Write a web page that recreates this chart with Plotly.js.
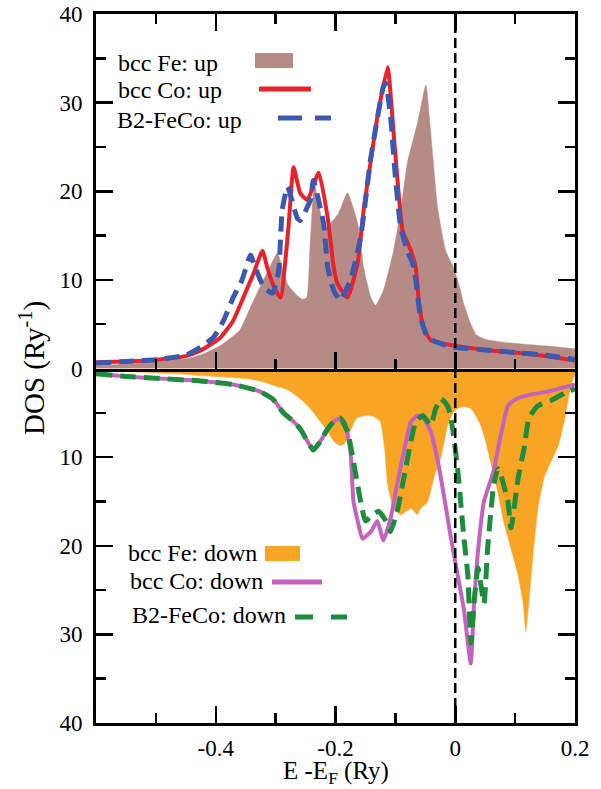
<!DOCTYPE html>
<html>
<head>
<meta charset="utf-8">
<script src="https://cdn.plot.ly/plotly-3.0.1.min.js"></script>
<style>
  html, body { margin: 0; padding: 0; background: #ffffff; }
  #chart { width: 601px; height: 789px; }
</style>
</head>
<body>
<div id="chart"></div>
<script>
// ---------------- data ----------------
// spin up, bcc Fe (filled)
const E_feUp   = [-0.6, -0.55, -0.5, -0.45, -0.426, -0.392, -0.36, -0.342, -0.326, -0.31, -0.297, -0.28, -0.265, -0.255, -0.248, -0.243, -0.238, -0.235, -0.228, -0.218, -0.208, -0.195, -0.18, -0.163, -0.153, -0.141, -0.133, -0.12, -0.103, -0.091, -0.08, -0.063, -0.049, -0.041, -0.029, -0.016, -0.003, 0.008, 0.014, 0.026, 0.035, 0.05, 0.076, 0.12, 0.16, 0.2];
const DOS_feUp = [0.3, 0.5, 0.8, 1.1, 1.5, 2.6, 4.3, 6.9, 9.2, 11.4, 13.0, 9.5, 8.3, 7.8, 8.0, 13.0, 19.0, 20.8, 18.5, 15.8, 16.4, 17.5, 19.8, 16.4, 11.4, 8.0, 7.1, 8.8, 13.3, 17.9, 23.2, 27.7, 32.0, 26.6, 17.9, 13.3, 11.4, 9.0, 7.3, 5.0, 3.8, 3.3, 3.0, 2.7, 2.5, 2.2];

// spin up, bcc Co
const E_coUp   = [-0.6, -0.55, -0.5, -0.45, -0.426, -0.392, -0.371, -0.354, -0.337, -0.322, -0.314, -0.305, -0.292, -0.279, -0.27, -0.259, -0.247, -0.228, -0.213, -0.203, -0.197, -0.18, -0.163, -0.153, -0.141, -0.13, -0.113, -0.103, -0.096, -0.088, -0.074, -0.066, -0.061, -0.053, -0.041, -0.019, -0.003, 0.05, 0.1, 0.15, 0.2];
const DOS_coUp = [0.7, 0.8, 1.0, 1.4, 2.0, 3.5, 5.4, 8.0, 10.7, 13.3, 11.4, 9.6, 8.0, 15.6, 22.7, 19.8, 19.0, 22.1, 17.0, 11.4, 9.6, 8.0, 11.9, 17.9, 23.5, 28.4, 34.0, 26.6, 20.9, 15.6, 13.3, 11.4, 7.7, 4.6, 3.2, 2.8, 2.6, 2.1, 1.8, 1.4, 0.9];

// spin up, B2-FeCo
const E_fecoUp   = [-0.6, -0.55, -0.5, -0.45, -0.426, -0.404, -0.387, -0.371, -0.356, -0.342, -0.334, -0.32, -0.305, -0.295, -0.289, -0.28, -0.264, -0.259, -0.242, -0.237, -0.22, -0.213, -0.203, -0.192, -0.175, -0.158, -0.141, -0.12, -0.116, -0.108, -0.1, -0.091, -0.08, -0.069, -0.058, -0.046, -0.024, -0.003, 0.05, 0.1, 0.15, 0.2];
const DOS_fecoUp = [0.6, 0.8, 1.0, 1.5, 2.4, 3.5, 5.4, 8.0, 10.0, 12.8, 11.4, 9.2, 8.5, 11.0, 17.9, 20.5, 17.0, 16.7, 19.0, 21.2, 16.4, 11.4, 8.8, 7.7, 10.0, 14.8, 23.8, 31.8, 32.2, 28.4, 21.6, 15.9, 13.3, 11.4, 5.8, 3.5, 2.8, 2.4, 2.1, 1.8, 1.5, 1.0];

// spin down, bcc Fe (filled)
const E_feDn   = [-0.6, -0.55, -0.5, -0.45, -0.426, -0.38, -0.342, -0.32, -0.304, -0.28, -0.259, -0.242, -0.225, -0.213, -0.203, -0.192, -0.185, -0.175, -0.165, -0.15, -0.137, -0.125, -0.118, -0.113, -0.108, -0.103, -0.091, -0.074, -0.063, -0.058, -0.046, -0.036, -0.024, -0.013, -0.008, -0.003, 0.004, 0.014, 0.026, 0.036, 0.043, 0.05, 0.059, 0.071, 0.081, 0.093, 0.105, 0.113, 0.118, 0.123, 0.13, 0.138, 0.148, 0.16, 0.172, 0.182, 0.19, 0.197, 0.2];
const DOS_feDn = [0.2, 0.35, 0.5, 0.65, 0.8, 1.0, 1.2, 1.5, 1.9, 2.4, 3.4, 4.5, 6.0, 7.1, 8.2, 8.7, 8.5, 7.0, 5.6, 5.3, 5.4, 6.0, 9.0, 13.0, 14.6, 15.8, 16.5, 15.8, 16.5, 15.8, 15.0, 12.4, 10.0, 6.5, 5.6, 4.9, 4.5, 4.3, 4.5, 5.5, 6.5, 8.0, 10.5, 13.9, 17.3, 20.3, 23.3, 26.3, 29.7, 26.3, 21.0, 15.8, 12.4, 10.5, 8.7, 6.0, 3.0, 1.1, 0.8];

// spin down, bcc Co
const E_coDn   = [-0.6, -0.55, -0.5, -0.45, -0.426, -0.371, -0.326, -0.304, -0.287, -0.27, -0.259, -0.247, -0.237, -0.225, -0.213, -0.203, -0.192, -0.185, -0.175, -0.17, -0.163, -0.155, -0.141, -0.13, -0.12, -0.108, -0.096, -0.086, -0.074, -0.063, -0.053, -0.041, -0.029, -0.019, -0.008, 0.004, 0.014, 0.026, 0.031, 0.038, 0.048, 0.064, 0.076, 0.088, 0.1, 0.121, 0.155, 0.2];
const DOS_coDn = [0.6, 0.9, 1.1, 1.3, 1.4, 1.8, 2.6, 3.5, 5.0, 6.0, 6.8, 8.2, 9.2, 8.2, 6.8, 6.0, 5.6, 6.0, 9.4, 15.0, 17.2, 19.2, 18.4, 17.2, 19.4, 16.9, 12.7, 9.4, 6.0, 5.3, 5.6, 7.1, 10.5, 14.3, 18.8, 23.3, 27.0, 33.3, 27.0, 20.6, 15.0, 11.6, 7.5, 4.2, 3.5, 3.0, 2.6, 1.8];

// spin down, B2-FeCo
const E_fecoDn   = [-0.6, -0.55, -0.5, -0.45, -0.426, -0.371, -0.326, -0.304, -0.287, -0.27, -0.259, -0.247, -0.237, -0.225, -0.213, -0.203, -0.192, -0.18, -0.17, -0.158, -0.15, -0.138, -0.128, -0.116, -0.108, -0.096, -0.086, -0.074, -0.066, -0.054, -0.041, -0.033, -0.024, -0.013, -0.008, -0.003, 0.004, 0.009, 0.014, 0.021, 0.026, 0.032, 0.038, 0.048, 0.054, 0.059, 0.064, 0.071, 0.076, 0.088, 0.093, 0.105, 0.115, 0.123, 0.138, 0.16, 0.182, 0.2];
const DOS_fecoDn = [0.6, 0.9, 1.1, 1.3, 1.4, 1.8, 2.6, 3.5, 5.0, 6.0, 6.8, 8.2, 9.2, 8.2, 6.8, 6.0, 5.6, 7.1, 10.5, 15.0, 17.2, 16.5, 16.1, 17.2, 18.4, 15.8, 12.4, 8.2, 6.0, 5.3, 6.4, 4.6, 3.4, 4.2, 5.3, 7.5, 11.3, 15.0, 18.8, 23.3, 31.0, 26.0, 22.5, 26.5, 20.3, 16.5, 13.2, 11.3, 12.0, 15.0, 18.0, 12.4, 9.0, 5.6, 4.2, 3.6, 2.8, 2.3];

// axis ticks
const xTickVals = [-0.4, -0.2, 0, 0.2];
const xTickText = ['-0.4', '-0.2', '0', '0.2'];
const yUpTickVals = [0, 10, 20, 30, 40];
const yDnTickVals = [10, 20, 30, 40];

// legend labels
const upLabels = ['bcc Fe: up', 'bcc Co: up', 'B2-FeCo: up'];
const dnLabels = ['bcc Fe: down', 'bcc Co: down', 'B2-FeCo: down'];

// ---------------- styles ----------------
const C_FE_UP = '#b68b86';
const C_CO_UP = '#e8222b';
const C_FECO_UP = '#3c59b2';
const C_FE_DN = '#f8a425';
const C_CO_DN = '#c462bf';
const C_FECO_DN = '#1d8d3d';
const FONT = 'Liberation Serif';

// plot area in pixels (for placing legend decorations)
const L = 96, R = 575, T = 14, B = 723;
const px = v => (v - L) / (R - L);
const py = v => (B - v) / (B - T);

const SM = 0.45;
const traces = [
  {x: E_feUp, y: DOS_feUp, xaxis: 'x2', yaxis: 'y', type: 'scatter', mode: 'lines',
   fill: 'tozeroy', fillcolor: C_FE_UP, line: {color: C_FE_UP, width: 0.5, shape: 'spline', smoothing: SM}, name: upLabels[0]},
  {x: E_coUp, y: DOS_coUp, xaxis: 'x2', yaxis: 'y', type: 'scatter', mode: 'lines',
   line: {color: C_CO_UP, width: 4, shape: 'spline', smoothing: SM}, name: upLabels[1]},
  {x: E_fecoUp, y: DOS_fecoUp, xaxis: 'x2', yaxis: 'y', type: 'scatter', mode: 'lines',
   line: {color: C_FECO_UP, width: 5, dash: '15px,8px', shape: 'spline', smoothing: SM}, name: upLabels[2]},
  {x: E_feDn, y: DOS_feDn, xaxis: 'x', yaxis: 'y2', type: 'scatter', mode: 'lines',
   fill: 'tozeroy', fillcolor: C_FE_DN, line: {color: C_FE_DN, width: 0.5, shape: 'spline', smoothing: SM}, name: dnLabels[0]},
  {x: E_coDn, y: DOS_coDn, xaxis: 'x', yaxis: 'y2', type: 'scatter', mode: 'lines',
   line: {color: C_CO_DN, width: 4, shape: 'spline', smoothing: SM}, name: dnLabels[1]},
  {x: E_fecoDn, y: DOS_fecoDn, xaxis: 'x', yaxis: 'y2', type: 'scatter', mode: 'lines',
   line: {color: C_FECO_DN, width: 5, dash: '16px,8px', shape: 'spline', smoothing: SM}, name: dnLabels[2]}
];

// fresh objects each time (shared objects are not reused across attributes)
const tickFont = () => ({family: FONT, size: 23, color: '#000'});
const minorX = () => ({dtick: 0.1, tick0: 0, ticks: 'inside', ticklen: 10, tickwidth: 2.5, tickcolor: '#000'});
const minorY = () => ({dtick: 5, tick0: 0, ticks: 'inside', ticklen: 10, tickwidth: 2.5, tickcolor: '#000'});
const legendFont = () => ({family: FONT, size: 24, color: '#000'});

function label(text, xp, yp) {
  return {text: text, xref: 'paper', yref: 'paper', x: px(xp), y: py(yp),
          xanchor: 'left', yanchor: 'middle', showarrow: false, font: legendFont()};
}

const layout = {
  width: 601, height: 789,
  margin: {l: L, r: 601 - R, t: T, b: 789 - B},
  paper_bgcolor: '#fff', plot_bgcolor: '#fff',
  showlegend: false,
  font: {family: FONT, size: 23, color: '#000'},
  xaxis: {
    domain: [0, 1], anchor: 'y2', range: [-0.6, 0.2],
    tickmode: 'array', tickvals: xTickVals, ticktext: xTickText,
    ticks: 'inside', ticklen: 17, tickwidth: 2.5, tickcolor: '#000',
    minor: minorX(), showgrid: false, zeroline: false,
    showline: true, linewidth: 3, linecolor: '#000', mirror: false,
    tickfont: tickFont(), ticklabelstandoff: 2
  },
  xaxis2: {
    domain: [0, 1], anchor: 'y', matches: 'x', range: [-0.6, 0.2],
    tickmode: 'array', tickvals: xTickVals,
    ticks: 'inside', ticklen: 17, tickwidth: 2.5, tickcolor: '#000',
    minor: minorX(), showgrid: false, zeroline: false, showticklabels: false,
    showline: true, linewidth: 3, linecolor: '#000', mirror: 'ticks'
  },
  yaxis: {
    domain: [0.5, 1], anchor: 'x2', range: [0, 40],
    tickmode: 'array', tickvals: yUpTickVals,
    ticks: 'inside', ticklen: 17, tickwidth: 2.5, tickcolor: '#000',
    minor: minorY(), showgrid: false, zeroline: false,
    showline: true, linewidth: 3, linecolor: '#000', mirror: 'ticks',
    tickfont: tickFont(), ticklabelstandoff: 6
  },
  yaxis2: {
    domain: [0, 0.5], anchor: 'x', range: [40, 0],
    tickmode: 'array', tickvals: yDnTickVals,
    ticks: 'inside', ticklen: 17, tickwidth: 2.5, tickcolor: '#000',
    minor: minorY(), showgrid: false, zeroline: false,
    showline: true, linewidth: 3, linecolor: '#000', mirror: 'ticks',
    tickfont: tickFont(), ticklabelstandoff: 6
  },
  shapes: [
    // Fermi level
    {type: 'line', xref: 'x', yref: 'paper', x0: 0, x1: 0, y0: 0, y1: 0.99,
     line: {color: '#000', width: 2.5, dash: '10px,5px'}, layer: 'above'},
    // legend swatches (top)
    {type: 'rect', xref: 'paper', yref: 'paper', x0: px(255), x1: px(293), y0: py(68), y1: py(53),
     fillcolor: C_FE_UP, line: {width: 0}},
    {type: 'line', xref: 'paper', yref: 'paper', x0: px(259), x1: px(311), y0: py(89), y1: py(89),
     line: {color: C_CO_UP, width: 5}},
    {type: 'line', xref: 'paper', yref: 'paper', x0: px(278), x1: px(331), y0: py(118), y1: py(118),
     line: {color: C_FECO_UP, width: 5, dash: '24px,13px'}},
    // legend swatches (bottom)
    {type: 'rect', xref: 'paper', yref: 'paper', x0: px(265), x1: px(300), y0: py(561), y1: py(546),
     fillcolor: C_FE_DN, line: {width: 0}},
    {type: 'line', xref: 'paper', yref: 'paper', x0: px(272), x1: px(322), y0: py(582), y1: py(582),
     line: {color: C_CO_DN, width: 5}},
    {type: 'line', xref: 'paper', yref: 'paper', x0: px(295), x1: px(347), y0: py(617), y1: py(617),
     line: {color: C_FECO_DN, width: 5, dash: '18px,18px'}}
  ],
  annotations: [
    label(upLabels[0], 116, 63),
    label(upLabels[1], 116, 90),
    label(upLabels[2], 115, 120),
    label(dnLabels[0], 126, 553),
    label(dnLabels[1], 128, 581),
    label(dnLabels[2], 130, 615),
    {text: 'DOS (Ry<sup>-1</sup>)', xref: 'paper', yref: 'paper', x: px(32), y: py(368),
     textangle: -90, xanchor: 'center', yanchor: 'middle', showarrow: false,
     font: {family: FONT, size: 29, color: '#000'}},
    {text: 'E -E<sub>F</sub> (Ry)', xref: 'paper', yref: 'paper', x: px(336), y: py(772),
     xanchor: 'center', yanchor: 'middle', showarrow: false,
     font: {family: FONT, size: 25, color: '#000'}}
  ]
};

Plotly.newPlot('chart', traces, layout, {staticPlot: true, displayModeBar: false});
</script>
</body>
</html>
